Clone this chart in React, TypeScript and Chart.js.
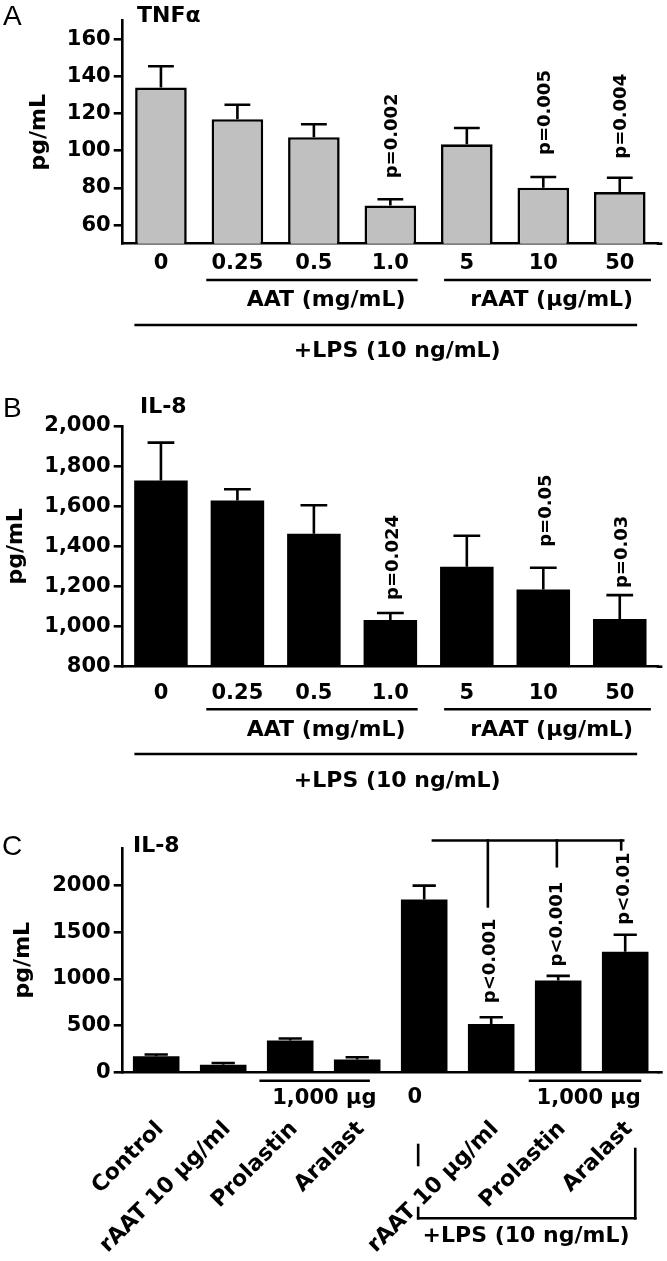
import React, { useEffect, useRef } from "react";
import { Chart, registerables } from "chart.js";

Chart.register(...registerables);

const FAMILY = '"DejaVu Sans", "Liberation Sans", Arial, sans-serif';
const LETTER_FAMILY = '"Liberation Sans", Arial, sans-serif';
const INK = "#000";
const LW = 2.6;

// ---------- Panel A: TNFα ----------
const doseLabels = ["0", "0.25", "0.5", "1.0", "5", "10", "50"];
const tnfMean = [134, 117, 107.3, 70.5, 103.5, 80.1, 77.8];
const tnfSem = [11.5, 7.8, 7, 3.4, 8.8, 5.8, 7.7];
const tnfP = ["", "", "", "p=0.002", "", "p=0.005", "p=0.004"];
const tnfTicks = [60, 80, 100, 120, 140, 160];

// ---------- Panel B: IL-8 ----------
const il8Mean = [1728, 1628, 1463, 1033, 1298, 1185, 1038];
const il8Sem = [189, 57, 142, 35, 155, 108, 119];
const il8P = ["", "", "", "p=0.024", "", "p=0.05", "p=0.03"];
const il8Ticks = [800, 1000, 1200, 1400, 1600, 1800, 2000];

// ---------- Panel C: IL-8 ----------
const cLabels = ["Control", "rAAT 10 µg/ml", "Prolastin", "Aralast", "0", "rAAT 10 µg/ml", "Prolastin", "Aralast"];
const cMean = [171, 82, 340, 136, 1848, 518, 982, 1289];
const cSem = [19, 18, 21, 25, 149, 71, 50, 183];
const cP = ["", "", "", "", "", "p<0.001", "p<0.001", "p<0.01"];
const cTicks = [0, 500, 1000, 1500, 2000];

const annotPlugin = {
  id: "annot",
  afterDatasetsDraw(chart: any, _a: any, opts: any) {
    const ctx = chart.ctx;
    const ys = chart.scales.y;
    const meta = chart.getDatasetMeta(0);
    const data = chart.data.datasets[0].data as number[];
    const sem = opts.sem as number[];
    ctx.save();
    ctx.strokeStyle = INK;
    ctx.lineWidth = LW;
    meta.data.forEach((bar: any, i: number) => {
      const top = ys.getPixelForValue(data[i] + sem[i]);
      const half = bar.width / 4;
      ctx.beginPath();
      ctx.moveTo(bar.x, bar.y);
      ctx.lineTo(bar.x, top);
      ctx.moveTo(bar.x - half, top);
      ctx.lineTo(bar.x + half, top);
      ctx.stroke();
      const p = opts.pLabels[i];
      if (p) {
        ctx.save();
        ctx.translate(bar.x + opts.pDx, top - opts.pGap[i]);
        ctx.rotate(-Math.PI / 2);
        ctx.font = `bold 18px ${FAMILY}`;
        ctx.fillStyle = INK;
        ctx.textAlign = "left";
        ctx.textBaseline = "middle";
        ctx.fillText(p, 0, 0);
        ctx.restore();
      }
    });
    ctx.restore();
  },
  afterDraw(chart: any, _a: any, opts: any) {
    const ctx = chart.ctx;
    const xs = chart.scales.x;
    const ys = chart.scales.y;
    const base = chart.chartArea.bottom;
    const X = (i: number) => xs.getPixelForValue(i);
    ctx.save();
    ctx.strokeStyle = INK;
    ctx.fillStyle = INK;
    ctx.lineWidth = LW;
    ctx.lineCap = "square";
    (opts.lines || []).forEach((l: number[]) => {
      ctx.beginPath();
      ctx.moveTo(X(l[0]), base + l[1]);
      ctx.lineTo(X(l[2]), base + l[3]);
      ctx.stroke();
    });
    (opts.valueLines || []).forEach((l: number[]) => {
      ctx.beginPath();
      ctx.moveTo(X(l[0]), ys.getPixelForValue(l[1]));
      ctx.lineTo(X(l[2]), ys.getPixelForValue(l[3]));
      ctx.stroke();
    });
    ctx.textBaseline = "middle";
    ctx.textAlign = "center";
    (opts.texts || []).forEach((t: any[]) => {
      ctx.font = `bold ${t[3]}px ${FAMILY}`;
      ctx.fillText(t[0], X(t[1]), base + t[2]);
    });
    ctx.textBaseline = "alphabetic";
    ctx.textAlign = "left";
    (opts.abs || []).forEach((t: any[]) => {
      ctx.font = t[3];
      ctx.fillText(t[0], t[1], t[2]);
    });
    if (opts.yTitle) {
      const ca = chart.chartArea;
      ctx.save();
      ctx.translate(opts.yTitle[1], (ca.top + ca.bottom) / 2);
      ctx.rotate(-Math.PI / 2);
      ctx.font = `bold 22px ${FAMILY}`;
      ctx.textAlign = "center";
      ctx.textBaseline = "middle";
      ctx.fillText(opts.yTitle[0], 0, 0);
      ctx.restore();
    }
    ctx.restore();
  },
};

type PanelSpec = {
  height: number;
  labels: string[];
  mean: number[];
  sem: number[];
  pLabels: string[];
  pGap: number[];
  pDx: number;
  ticks: number[];
  min: number;
  max: number;
  fmt: (v: number) => string;
  fill: string;
  borderWidth: number;
  barPct: number;
  padTop: number;
  padRight: number;
  plotBottom: number;
  xTicks: any;
  annot: any;
};

function buildConfig(s: PanelSpec): any {
  return {
    type: "bar",
    data: {
      labels: s.labels,
      datasets: [
        {
          data: s.mean,
          backgroundColor: s.fill,
          borderColor: INK,
          borderWidth: s.borderWidth,
          barPercentage: s.barPct,
          categoryPercentage: 1,
        },
      ],
    },
    plugins: [annotPlugin],
    options: {
      responsive: false,
      animation: false,
      devicePixelRatio: 1,
      layout: { autoPadding: false, padding: { top: s.padTop, left: 0, right: s.padRight, bottom: 0 } },
      plugins: {
        legend: { display: false },
        tooltip: { enabled: false },
        annot: { sem: s.sem, pLabels: s.pLabels, pGap: s.pGap, pDx: s.pDx, ...s.annot },
      },
      scales: {
        x: {
          type: "category",
          offset: true,
          grid: { display: false, drawTicks: false, tickLength: 0 },
          border: { display: true, color: INK, width: LW },
          ticks: {
            color: INK,
            font: { family: FAMILY, size: 21, weight: "bold" },
            autoSkip: false,
            ...s.xTicks,
          },
          afterFit: (sc: any) => {
            sc.height = s.height - s.plotBottom;
            sc.paddingLeft = 0;
            sc.paddingRight = 0;
            sc.paddingTop = 0;
            sc.paddingBottom = 0;
          },
        },
        y: {
          type: "linear",
          min: s.min,
          max: s.max,
          afterBuildTicks: (sc: any) => {
            sc.ticks = s.ticks.map((v) => ({ value: v }));
          },
          grid: {
            drawOnChartArea: false,
            drawTicks: true,
            tickLength: 9,
            tickWidth: LW,
            tickColor: INK,
            lineWidth: LW,
            color: INK,
          },
          border: { display: true, color: INK, width: LW },
          ticks: {
            color: INK,
            padding: 3,
            font: { family: FAMILY, size: 21, weight: "bold" },
            callback: (v: any) => s.fmt(Number(v)),
          },
          afterFit: (sc: any) => {
            sc.width = 122.7;
            sc.paddingLeft = 0;
            sc.paddingRight = 0;
            sc.paddingTop = 0;
            sc.paddingBottom = 0;
          },
        },
      },
    },
  };
}

const comma = (v: number) => v.toLocaleString("en-US");
const plain = (v: number) => String(v);

const specA: PanelSpec = {
  height: 380,
  labels: doseLabels,
  mean: tnfMean,
  sem: tnfSem,
  pLabels: tnfP,
  pGap: [0, 0, 0, 21, 0, 22, 19],
  pDx: 2,
  ticks: tnfTicks,
  min: 50,
  max: 170,
  fmt: plain,
  fill: "#c0c0c0",
  borderWidth: 2.6,
  barPct: 0.675,
  padTop: 20.7,
  padRight: 9,
  plotBottom: 243.7,
  xTicks: { padding: 7.5, maxRotation: 0, minRotation: 0 },
  annot: {
    lines: [
      [0.61, 36.3, 3.34, 36.3],
      [3.72, 36.3, 6.39, 36.3],
      [-0.33, 81.3, 6.21, 81.3],
      [6.5, 0, 6.54, 0],
    ],
    texts: [
      ["AAT (mg/mL)", 2.16, 56.3, 22],
      ["rAAT (µg/mL)", 5.11, 56.3, 22],
      ["+LPS (10 ng/mL)", 3.09, 107.3, 22],
    ],
    abs: [
      ["A", 3, 25, `28px ${LETTER_FAMILY}`],
      ["TNFα", 137, 22, `bold 22px ${FAMILY}`],
    ],
    yTitle: ["pg/mL", 39],
  },
};

const specB: PanelSpec = {
  height: 420,
  labels: doseLabels,
  mean: il8Mean,
  sem: il8Sem,
  pLabels: il8P,
  pGap: [0, 0, 0, 13, 0, 21, 7],
  pDx: 3,
  ticks: il8Ticks,
  min: 800,
  max: 2000,
  fmt: comma,
  fill: INK,
  borderWidth: 0,
  barPct: 0.7,
  padTop: 46,
  padRight: 9,
  plotBottom: 286.7,
  xTicks: { padding: 14.7, maxRotation: 0, minRotation: 0 },
  annot: {
    lines: [
      [0.61, 42.6, 3.34, 42.6],
      [3.72, 42.6, 6.39, 42.6],
      [-0.33, 87.3, 6.21, 87.3],
      [6.5, 0, 6.54, 0],
    ],
    texts: [
      ["AAT (mg/mL)", 2.16, 63.3, 22],
      ["rAAT (µg/mL)", 5.11, 63.3, 22],
      ["+LPS (10 ng/mL)", 3.09, 114.3, 22],
    ],
    abs: [
      ["B", 3, 36.7, `28px ${LETTER_FAMILY}`],
      ["IL-8", 140, 33.3, `bold 22px ${FAMILY}`],
    ],
    yTitle: ["pg/mL", 16],
  },
};

const specC: PanelSpec = {
  height: 461,
  labels: cLabels,
  mean: cMean,
  sem: cSem,
  pLabels: cP,
  pGap: [0, 0, 0, 0, 0, 14, 9.3, 10],
  pDx: -1,
  ticks: cTicks,
  min: 0,
  max: 2400,
  fmt: plain,
  fill: INK,
  borderWidth: 0,
  barPct: 0.695,
  padTop: 48,
  padRight: 8.3,
  plotBottom: 272.3,
  xTicks: {
    padding: 44,
    labelOffset: 4,
    maxRotation: 45,
    minRotation: 45,
    font: { family: FAMILY, size: 22, weight: "bold" },
    callback: (_v: any, i: number) => (i === 4 ? "" : cLabels[i]),
  },
  annot: {
    lines: [
      [1.56, 8.4, 3.17, 8.4],
      [5.58, 8.4, 7.22, 8.4],
      [3.91, 72.7, 3.91, 92.7],
      [3.91, 135.7, 3.91, 146],
      [3.91, 146, 7.15, 146],
      [7.15, 76.7, 7.15, 146],
      [7.5, 0, 7.54, 0],
    ],
    valueLines: [
      [4.13, 2480, 6.97, 2480],
      [4.95, 2480, 4.95, 1775],
      [5.98, 2480, 5.98, 2205],
      [6.94, 2480, 6.94, 2385],
    ],
    texts: [
      ["1,000 µg", 2.51, 26, 21],
      ["1,000 µg", 6.455, 26, 21],
      ["0", 3.86, 25.5, 21],
      ["+LPS (10 ng/mL)", 5.52, 163.7, 22],
    ],
    abs: [
      ["C", 2, 54.5, `28px ${LETTER_FAMILY}`],
      ["IL-8", 133, 52, `bold 22px ${FAMILY}`],
    ],
    yTitle: ["pg/mL", 23.3],
  },
};

function Panel({ top, spec }: { top: number; spec: PanelSpec }) {
  const ref = useRef<HTMLCanvasElement>(null);
  useEffect(() => {
    const chart = new Chart(ref.current as HTMLCanvasElement, buildConfig(spec));
    return () => chart.destroy();
  }, [spec]);
  return (
    <canvas
      ref={ref}
      width={667}
      height={spec.height}
      style={{ position: "absolute", left: 0, top, width: 667, height: spec.height }}
    />
  );
}

export default function App() {
  return (
    <div style={{ position: "absolute", left: 0, top: 0, width: 667, height: 1261, background: "#fff" }}>
      <Panel top={0} spec={specA} />
      <Panel top={380} spec={specB} />
      <Panel top={800} spec={specC} />
    </div>
  );
}
